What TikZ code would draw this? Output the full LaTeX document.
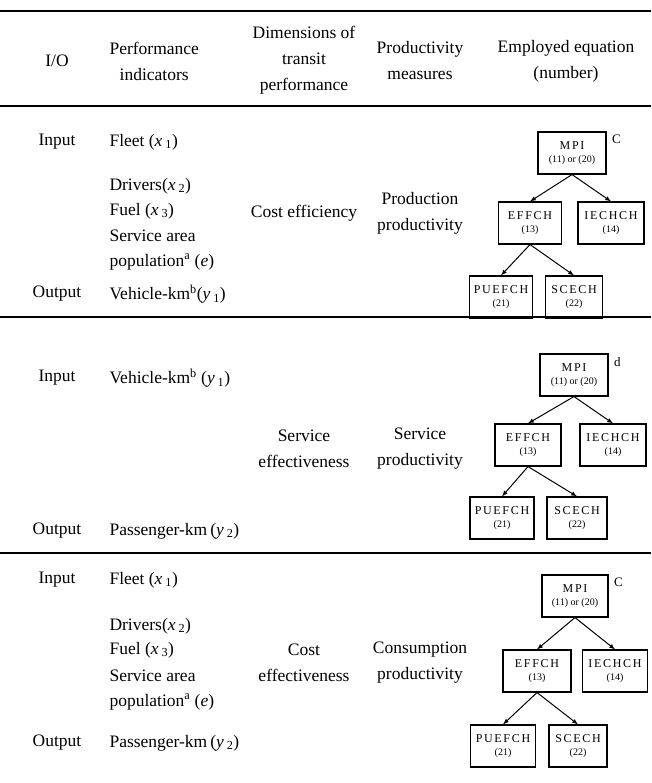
\documentclass[tikz,border=0pt]{standalone}
\usepackage{fontspec}
\setmainfont{Liberation Serif}
\usepackage{tikz}
\usetikzlibrary{positioning, arrows}

\newcommand{\eqtext}[2]{{\fontsize{12}{14}\selectfont\addfontfeature{LetterSpace=14}#1}\\[1pt]{\fontsize{10}{12}\selectfont #2}}
\newcommand{\vr}[2]{(\textit{#1}\,\textsubscript{#2})}

\begin{document}
\begin{tikzpicture}[x=1pt, y=-1pt, >=latex, font=\fontsize{17.5}{26}\selectfont,
    eqbox/.style={draw, line width=1.1pt, minimum height=42pt, inner xsep=4pt, align=center,
        font=\fontsize{10}{12}\selectfont},
    head/.style={align=center},
    item/.style={anchor=west},
    tag/.style={font=\fontsize{13}{14}\selectfont, anchor=north west, xshift=2pt}]
    \useasboundingbox (0,0) rectangle (651,783);

    % rules
    \draw[line width=1.4pt] (0,11) -- (651,11);
    \draw[line width=1.4pt] (0,106) -- (651,106);
    \draw[line width=1.1pt] (0,317) -- (651,317);
    \draw[line width=1.1pt] (0,553) -- (651,553);

    % header
    \node[head] (hio) at (57,61) {I/O};
    \node[head, anchor=west] (hind) at (106,61) {Performance\\indicators};
    \node[head] (hdim) at (304,60) {Dimensions of\\transit\\performance};
    \node[head] (hmeas) at (420,61) {Productivity\\measures};
    \node[head] (heq) at (566,61) {Employed equation\\(number)};

    % cost efficiency
    \node (inA) at (57,142) {Input};
    \node[item] (fleetA) at (106,142) {Fleet \vr{x}{1}};
    \node[item] (drvA) at (106,186) {Drivers\vr{x}{2}};
    \node[item] (fuelA) at (106,211) {Fuel \vr{x}{3}};
    \node[item] (areaA) at (106,236) {Service area};
    \node[item] (popA) at (106,262) {population\textsuperscript{a} (\textit{e})};
    \node (outA) at (57,294) {Output};
    \node[item] (vkmA) at (106,294) {Vehicle-km\textsuperscript{b}\vr{y}{1}};
    \node[head] (dimA) at (304,213) {Cost efficiency};
    \node[head] (measA) at (420,213) {Production\\productivity};

    \node[eqbox, minimum width=68pt] (mpiA) at (572,153) {\eqtext{MPI}{(11) or (20)}};
    \node[tag] at (mpiA.north east) {C};
    \node[eqbox, minimum width=63pt] (effA) at (530,223) {\eqtext{EFFCH}{(13)}};
    \node[eqbox, minimum width=66pt] (iecA) at (611,223) {\eqtext{IECHCH}{(14)}};
    \node[eqbox, minimum width=63pt] (pueA) at (501,297) {\eqtext{PUEFCH}{(21)}};
    \node[eqbox, minimum width=57pt] (sceA) at (574,297) {\eqtext{SCECH}{(22)}};
    \path[->, line width=1pt]
        (mpiA.south) edge (effA.north) edge (iecA.north)
        (effA.south) edge (pueA.north) edge (sceA.north);

    % service effectiveness
    \node (inB) at (57,378) {Input};
    \node[item] (vkmB) at (106,378) {Vehicle-km\textsuperscript{b} \vr{y}{1}};
    \node (outB) at (57,531) {Output};
    \node[item] (pkmB) at (106,531) {Passenger-km\,\vr{y}{2}};
    \node[head] (dimB) at (304,449) {Service\\effectiveness};
    \node[head] (measB) at (420,449) {Service\\productivity};

    \node[eqbox, minimum width=68pt] (mpiB) at (574,375) {\eqtext{MPI}{(11) or (20)}};
    \node[tag] at (mpiB.north east) {d};
    \node[eqbox, minimum width=66pt] (effB) at (528,445) {\eqtext{EFFCH}{(13)}};
    \node[eqbox, minimum width=66pt] (iecB) at (613,445) {\eqtext{IECHCH}{(14)}};
    \node[eqbox, minimum width=64pt] (pueB) at (502,518) {\eqtext{PUEFCH}{(21)}};
    \node[eqbox, minimum width=60pt] (sceB) at (577,518) {\eqtext{SCECH}{(22)}};
    \path[->, line width=1pt]
        (mpiB.south) edge (effB.north) edge (iecB.north)
        (effB.south) edge (pueB.north) edge (sceB.north);

    % cost effectiveness
    \node (inC) at (57,580) {Input};
    \node[item] (fleetC) at (106,580) {Fleet \vr{x}{1}};
    \node[item] (drvC) at (106,626) {Drivers\vr{x}{2}};
    \node[item] (fuelC) at (106,650) {Fuel \vr{x}{3}};
    \node[item] (areaC) at (106,676) {Service area};
    \node[item] (popC) at (106,702) {population\textsuperscript{a} (\textit{e})};
    \node (outC) at (57,743) {Output};
    \node[item] (pkmC) at (106,743) {Passenger-km\,\vr{y}{2}};
    \node[head] (dimC) at (304,663) {Cost\\effectiveness};
    \node[head] (measC) at (420,663) {Consumption\\productivity};

    \node[eqbox, minimum width=66pt] (mpiC) at (575,596) {\eqtext{MPI}{(11) or (20)}};
    \node[tag] at (mpiC.north east) {C};
    \node[eqbox, minimum width=68pt] (effC) at (537,671) {\eqtext{EFFCH}{(13)}};
    \node[eqbox, minimum width=65pt] (iecC) at (615,671) {\eqtext{IECHCH}{(14)}};
    \node[eqbox, minimum width=65pt] (pueC) at (503,746) {\eqtext{PUEFCH}{(21)}};
    \node[eqbox, minimum width=58pt] (sceC) at (578,746) {\eqtext{SCECH}{(22)}};
    \path[->, line width=1pt]
        (mpiC.south) edge (effC.north) edge (iecC.north)
        (effC.south) edge (pueC.north) edge (sceC.north);
\end{tikzpicture}
\end{document}
